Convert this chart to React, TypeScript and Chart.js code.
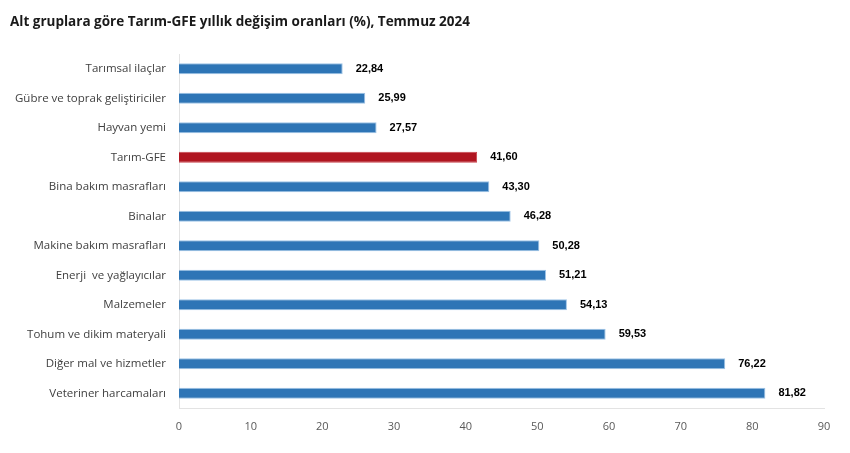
import React, { useEffect, useRef } from "react";
import { Chart, registerables } from "chart.js";

Chart.register(...registerables);

const titleText = "Alt gruplara göre Tarım-GFE yıllık değişim oranları (%), Temmuz 2024";
const categories = [
  "Tarımsal ilaçlar",
  "Gübre ve toprak geliştiriciler",
  "Hayvan yemi",
  "Tarım-GFE",
  "Bina bakım masrafları",
  "Binalar",
  "Makine bakım masrafları",
  "Enerji  ve yağlayıcılar",
  "Malzemeler",
  "Tohum ve dikim materyali",
  "Diğer mal ve hizmetler",
  "Veteriner harcamaları",
];
const values = [22.84, 25.99, 27.57, 41.6, 43.3, 46.28, 50.28, 51.21, 54.13, 59.53, 76.22, 81.82];
const highlight = "Tarım-GFE";
const xMin = 0;
const xMax = 90;
const xStep = 10;

const BLUE = "#2e75b6";
const BLUE_BORDER = "#9dc3e6";
const RED = "#b01520";
const RED_BORDER = "#c8434b";
const FONT = "'Open Sans', 'Noto Sans', sans-serif";
const VALUE_FONT = "'Liberation Sans', Arial, sans-serif";

const fmt = (v: number) => v.toFixed(2).replace(".", ",");

const valueLabels = {
  id: "valueLabels",
  afterDatasetsDraw(chart: any) {
    const ctx = chart.ctx;
    const meta = chart.getDatasetMeta(0);
    ctx.save();
    ctx.font = `bold 11px ${VALUE_FONT}`;
    ctx.fillStyle = "#000000";
    ctx.textAlign = "left";
    ctx.textBaseline = "middle";
    meta.data.forEach((bar: any, i: number) => {
      ctx.fillText(fmt(values[i]), bar.x + 13, bar.y);
    });
    ctx.restore();
  },
};

const titlePlugin = {
  id: "customTitle",
  afterDraw(chart: any) {
    const ctx = chart.ctx;
    ctx.save();
    ctx.font = `bold 13.5px ${FONT}`;
    ctx.fillStyle = "#1a1a1a";
    ctx.textAlign = "left";
    ctx.textBaseline = "middle";
    ctx.fillText(titleText, 10, 22);
    ctx.restore();
  },
};

export default function App() {
  const ref = useRef<HTMLCanvasElement | null>(null);
  useEffect(() => {
    if (!ref.current) return;
    const chart = new Chart(ref.current, {
      type: "bar",
      data: {
        labels: categories,
        datasets: [
          {
            data: values,
            backgroundColor: categories.map((c) => (c === highlight ? RED : BLUE)),
            borderColor: categories.map((c) => (c === highlight ? RED_BORDER : BLUE_BORDER)),
            borderWidth: 1,
            categoryPercentage: 1,
            barPercentage: 0.38,
          },
        ],
      },
      options: {
        indexAxis: "y",
        animation: false,
        responsive: false,
        maintainAspectRatio: false,
        layout: { padding: { left: 0, right: 26, top: 54, bottom: 0 } },
        plugins: { legend: { display: false }, tooltip: { enabled: false }, title: { display: false } },
        scales: {
          x: {
            min: xMin,
            max: xMax,
            ticks: { stepSize: xStep, color: "#595959", font: { family: FONT, size: 11 }, padding: 12 },
            grid: { display: false, drawTicks: false },
            border: { display: true, color: "#e3e3e3", width: 1 },
            afterFit: (s: any) => {
              s.height = 45;
            },
          },
          y: {
            ticks: { color: "#404040", font: { family: FONT, size: 11.5 }, padding: 13, autoSkip: false },
            grid: { display: false, drawTicks: false },
            border: { display: true, color: "#e3e3e3", width: 1 },
            afterFit: (s: any) => {
              s.width = 179;
            },
          },
        },
      },
      plugins: [valueLabels, titlePlugin],
    });
    return () => chart.destroy();
  }, []);
  return (
    <div style={{ position: "absolute", left: 0, top: 0, width: 850, height: 453, background: "#ffffff" }}>
      <canvas ref={ref} width={850} height={453} style={{ width: 850, height: 453 }} />
    </div>
  );
}
